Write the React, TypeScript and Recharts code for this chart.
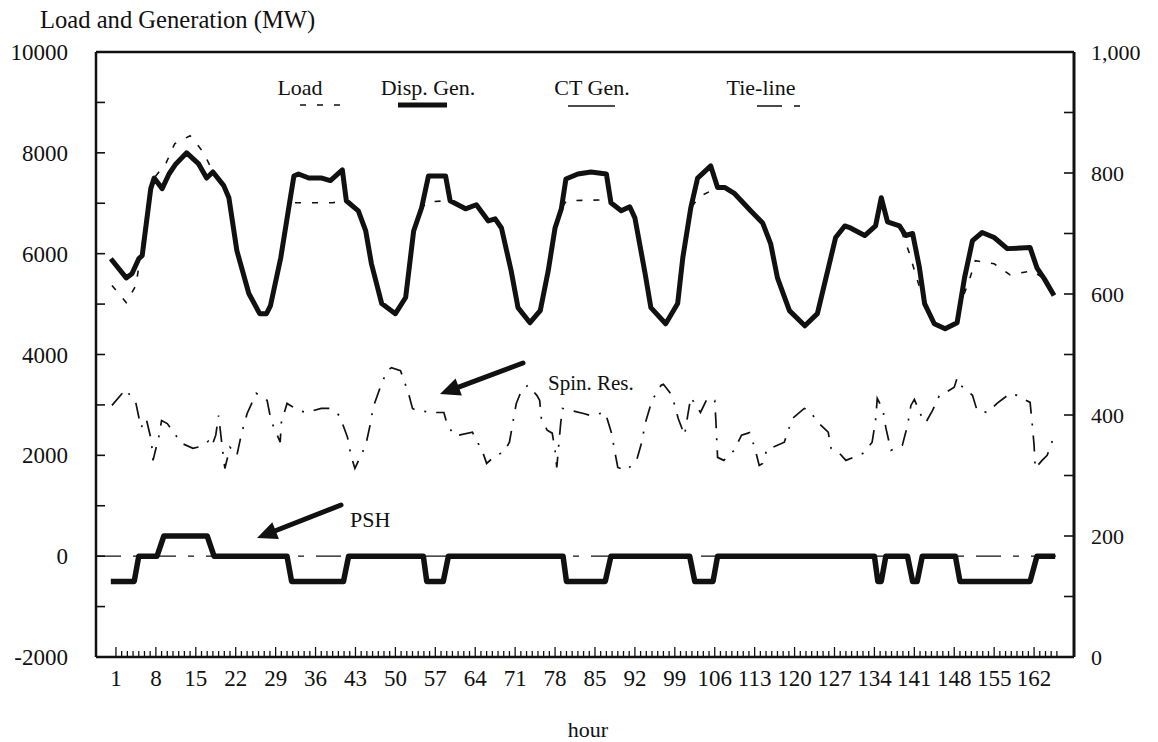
import React from 'react';
import { LineChart, Line, XAxis, YAxis } from 'recharts';

const FONT = '"Liberation Serif", "Times New Roman", Times, serif';
const INK = '#111';

// axis ticks
const HOUR_LABELS = [1, 8, 15, 22, 29, 36, 43, 50, 57, 64, 71, 78, 85, 92, 99, 106, 113, 120, 127, 134, 141, 148, 155, 162];
const HOUR_TICKS = Array.from({ length: 166 }, (_, i) => i + 1);
const LEFT_TICKS = [-2000, -1000, 0, 1000, 2000, 3000, 4000, 5000, 6000, 7000, 8000, 9000, 10000];
const LEFT_LABELS = [-2000, 0, 2000, 4000, 6000, 8000, 10000];
const RIGHT_TICKS = [0, 100, 200, 300, 400, 500, 600, 700, 800, 900, 1000];
const RIGHT_LABELS = [0, 200, 400, 600, 800, 1000];

// dispatchable generation (MW), read at the corners of the thick line
const GEN_HOURS = [0.1, 2.8, 3.8, 5.0, 5.6, 7.1, 7.7, 9.1, 10.3, 11.5, 13.4, 15.5, 16.9, 18.0, 19.9, 20.8, 22.2, 24.3, 26.2, 27.4, 28.1, 29.9, 31.3, 32.2, 33.0, 34.8, 37.1, 38.6, 40.7, 41.4, 43.5, 44.8, 45.8, 47.6, 50.0, 51.8, 53.2, 54.6, 55.8, 58.8, 59.6, 62.3, 64.2, 66.3, 67.5, 68.6, 70.3, 71.5, 73.6, 75.4, 76.8, 78.0, 79.1, 79.9, 82.0, 84.3, 87.0, 87.8, 89.6, 91.1, 92.0, 93.8, 94.8, 97.4, 99.5, 100.4, 101.8, 103.0, 105.3, 106.5, 107.8, 109.5, 112.3, 114.4, 115.8, 117.0, 119.1, 121.8, 124.0, 125.8, 127.2, 128.8, 129.8, 132.3, 134.2, 135.2, 136.3, 138.4, 139.5, 140.7, 141.9, 142.8, 144.5, 146.4, 148.5, 149.8, 151.2, 152.9, 155.0, 157.3, 161.3, 162.5, 163.8, 165.5];
const GEN_MW = [5900, 5520, 5600, 5900, 5960, 7290, 7500, 7290, 7580, 7780, 8000, 7780, 7500, 7620, 7350, 7110, 6060, 5210, 4810, 4810, 4970, 5920, 6910, 7540, 7580, 7500, 7500, 7450, 7660, 7050, 6850, 6450, 5800, 5010, 4810, 5130, 6450, 6910, 7540, 7540, 7050, 6890, 6970, 6650, 6690, 6510, 5660, 4930, 4630, 4870, 5660, 6510, 6890, 7480, 7580, 7620, 7580, 7010, 6850, 6930, 6710, 5600, 4930, 4610, 5010, 5920, 6910, 7500, 7740, 7310, 7310, 7190, 6850, 6610, 6200, 5520, 4870, 4570, 4810, 5660, 6320, 6550, 6510, 6360, 6550, 7110, 6630, 6550, 6360, 6400, 5720, 5010, 4610, 4510, 4630, 5520, 6260, 6420, 6320, 6100, 6120, 5720, 5500, 5170];

// load (MW)
const LOAD_HOURS = [0.3, 2.8, 4.5, 7.1, 7.7, 9.8, 11.3, 14.0, 16.4, 18.0, 19.9, 20.8, 22.2, 24.3, 26.2, 27.4, 28.1, 29.9, 31.3, 32.2, 39.0, 41.4, 43.5, 44.8, 45.8, 47.6, 50.0, 51.8, 53.2, 54.6, 55.8, 59.6, 62.3, 64.2, 66.3, 67.5, 68.6, 70.3, 71.5, 73.6, 75.4, 76.8, 78.0, 79.1, 80.0, 87.5, 87.8, 89.6, 91.1, 92.0, 93.8, 94.8, 97.4, 99.5, 100.4, 101.8, 103.3, 106.5, 107.8, 109.5, 112.3, 114.4, 115.8, 117.0, 119.1, 121.8, 124.0, 125.8, 127.2, 128.8, 129.8, 132.3, 134.2, 135.2, 136.3, 138.4, 140.1, 141.2, 142.8, 144.5, 146.4, 148.5, 149.3, 150.6, 151.7, 155.0, 157.8, 161.7, 163.8, 165.5];
const LOAD_MW = [5370, 5030, 5370, 7290, 7500, 7800, 8180, 8340, 8000, 7620, 7350, 7110, 6060, 5210, 4810, 4810, 4970, 5920, 6910, 7010, 7010, 7050, 6850, 6450, 5800, 5010, 4810, 5130, 6450, 6910, 7030, 7050, 6890, 6970, 6650, 6690, 6510, 5660, 4930, 4630, 4870, 5660, 6510, 6890, 7050, 7070, 7010, 6850, 6930, 6710, 5600, 4930, 4610, 5010, 5920, 6910, 7130, 7310, 7310, 7190, 6850, 6610, 6200, 5520, 4870, 4570, 4810, 5660, 6320, 6550, 6510, 6360, 6550, 7110, 6630, 6550, 6020, 5600, 5010, 4610, 4510, 4630, 5070, 5460, 5860, 5800, 5580, 5660, 5500, 5170];

// spinning reserve (MW)
const SPIN_HOURS = [0.3, 2.7, 4.5, 5.4, 6.3, 7.2, 7.5, 8.5, 9.0, 10.0, 12.5, 14.5, 16.0, 17.2, 17.8, 18.5, 19.0, 19.7, 20.1, 21.0, 22.2, 23.0, 24.0, 25.6, 27.5, 28.2, 29.8, 30.0, 31.0, 33.0, 34.4, 37.0, 38.5, 40.2, 41.6, 42.2, 42.9, 44.8, 45.6, 46.1, 47.6, 48.6, 49.3, 50.9, 52.3, 53.0, 53.7, 56.5, 58.5, 59.0, 60.2, 61.1, 63.5, 64.5, 65.2, 66.0, 67.6, 69.0, 70.0, 70.6, 71.2, 72.2, 73.3, 74.8, 75.3, 75.6, 76.6, 77.5, 78.0, 78.3, 79.0, 79.3, 80.8, 83.0, 84.2, 86.8, 87.9, 88.5, 89.0, 90.5, 92.3, 93.2, 93.8, 95.0, 96.6, 97.0, 98.5, 99.6, 100.7, 101.2, 101.8, 103.5, 104.7, 106.0, 106.2, 106.5, 107.6, 109.4, 110.7, 112.1, 113.0, 113.8, 114.4, 115.2, 116.2, 118.2, 119.6, 121.7, 122.6, 124.1, 125.9, 126.4, 127.4, 129.0, 132.0, 133.6, 134.2, 134.5, 135.5, 136.0, 136.9, 138.9, 139.8, 140.4, 141.0, 142.2, 143.0, 144.2, 145.4, 146.3, 148.0, 148.5, 149.1, 150.6, 151.2, 152.0, 153.8, 155.5, 157.8, 159.0, 161.3, 161.7, 162.0, 162.2, 163.4, 164.3, 165.3];
const SPIN_MW = [2990, 3310, 3030, 2550, 2730, 2300, 1900, 2360, 2690, 2630, 2240, 2140, 2180, 2280, 2180, 2400, 2790, 2100, 1740, 2160, 2000, 2420, 2830, 3230, 3090, 2690, 2260, 2650, 3030, 2890, 2850, 2930, 2930, 2790, 2360, 2000, 1740, 2200, 2620, 2950, 3430, 3680, 3740, 3680, 3230, 2930, 2890, 2850, 2850, 2650, 2400, 2400, 2460, 2240, 2100, 1840, 2000, 2060, 2260, 2650, 3030, 3310, 3390, 3190, 3090, 2730, 2500, 2440, 2100, 1760, 2650, 2930, 2890, 2830, 2790, 2850, 2440, 2060, 1760, 1700, 1900, 2260, 2630, 3090, 3390, 3410, 3190, 2730, 2400, 2750, 3150, 2850, 3130, 3090, 2690, 1960, 1900, 2100, 2400, 2450, 2160, 1800, 1840, 2140, 2160, 2260, 2730, 2930, 2890, 2650, 2460, 2140, 2100, 1900, 2040, 2260, 2690, 3130, 2900, 2550, 2100, 2200, 2590, 2990, 3110, 2790, 2650, 2890, 3190, 3230, 3350, 3530, 3390, 3250, 3190, 2890, 2850, 3030, 3230, 3190, 3050, 2590, 2200, 1740, 1900, 2000, 2320];

// pumped storage hydro (MW)
const PSH_HOURS = [0.1, 4.2, 5.0, 8.2, 9.4, 17.0, 18.2, 31.0, 31.8, 40.9, 41.8, 54.9, 55.5, 58.4, 59.3, 79.4, 80.0, 86.8, 87.8, 101.6, 102.5, 105.7, 106.5, 134.0, 134.6, 135.2, 136.0, 139.8, 140.7, 141.5, 142.4, 148.2, 149.0, 161.3, 162.5, 165.7];
const PSH_MW = [-500, -500, 0, 0, 400, 400, 0, 0, -500, -500, 0, 0, -500, -500, 0, 0, -500, -500, 0, 0, -500, -500, 0, 0, -500, -500, 0, 0, -500, -500, 0, 0, -500, -500, 0, 0];

// tie-line and CT generation stay at zero all week
const TIE_HOURS = [-2.5, 166];
const TIE_MW = [0, 0];
const CT_HOURS = [1, 166];
const CT_MW = [0, 0];

const rows = (hours: number[], values: number[]) => hours.map((h, i) => ({ h, v: values[i] }));

const LOAD_DASH = '6 11';
const SPIN_DASH = '16 10 2 10';
const TIE_DASH = '25 12 6 12';

const txt = { fontFamily: FONT, fill: INK } as const;

function HourTick({ x, y, payload }: any) {
  const h = payload.value;
  const major = HOUR_LABELS.includes(h);
  return (
    <g>
      <line x1={x} x2={x} y1={y} y2={y - (major ? 10 : 6)} stroke={INK} strokeWidth={1.3} />
      {major && (
        <text x={x} y={y + 29} textAnchor="middle" fontSize={23} {...txt}>
          {h}
        </text>
      )}
    </g>
  );
}

function LeftTick({ x, y, payload }: any) {
  const v = payload.value;
  return (
    <g>
      <line x1={x} x2={x + 9} y1={y} y2={y} stroke={INK} strokeWidth={1.6} />
      {LEFT_LABELS.includes(v) && (
        <text x={x - 28} y={y + 8} textAnchor="end" fontSize={23} {...txt}>
          {v}
        </text>
      )}
    </g>
  );
}

function RightTick({ x, y, payload }: any) {
  const v = payload.value;
  return (
    <g>
      <line x1={x} x2={x - 10} y1={y} y2={y} stroke={INK} strokeWidth={1.6} />
      {RIGHT_LABELS.includes(v) && (
        <text x={x + 17} y={y + 8} textAnchor="start" fontSize={22} {...txt}>
          {v.toLocaleString('en-US')}
        </text>
      )}
    </g>
  );
}

function Arrow({ x1, y1, x2, y2 }: { x1: number; y1: number; x2: number; y2: number }) {
  const len = Math.hypot(x2 - x1, y2 - y1);
  const ux = (x2 - x1) / len;
  const uy = (y2 - y1) / len;
  const hl = 20;
  const hw = 9;
  const bx = x2 - ux * hl;
  const by = y2 - uy * hl;
  return (
    <g>
      <line x1={x1} y1={y1} x2={bx + ux * 3} y2={by + uy * 3} stroke={INK} strokeWidth={5} strokeLinecap="round" />
      <polygon points={`${x2},${y2} ${bx - uy * hw},${by + ux * hw} ${bx + uy * hw},${by - ux * hw}`} fill={INK} />
    </g>
  );
}

function Overlay() {
  return (
    <svg width={1158} height={742} style={{ position: 'absolute', left: 0, top: 0, pointerEvents: 'none' }}>
      <text x={40} y={28} fontSize={24.6} {...txt}>Load and Generation (MW)</text>
      <text x={588} y={737} textAnchor="middle" fontSize={22} {...txt}>hour</text>

      {/* legend */}
      <text x={300} y={95} textAnchor="middle" fontSize={22} {...txt}>Load</text>
      <line x1={300} x2={348} y1={105} y2={105} stroke={INK} strokeWidth={1.5} strokeDasharray={LOAD_DASH} />
      <text x={428} y={95} textAnchor="middle" fontSize={22} {...txt}>Disp. Gen.</text>
      <line x1={398} x2={447} y1={105} y2={105} stroke={INK} strokeWidth={5} />
      <text x={592} y={95} textAnchor="middle" fontSize={22} {...txt}>CT Gen.</text>
      <line x1={568} x2={615} y1={106} y2={106} stroke={INK} strokeWidth={1.5} />
      <text x={761} y={95} textAnchor="middle" fontSize={22} {...txt}>Tie-line</text>
      <line x1={757} x2={810} y1={106} y2={106} stroke={INK} strokeWidth={1.5} strokeDasharray={TIE_DASH} />

      {/* annotations */}
      <text x={548} y={390} fontSize={21} {...txt}>Spin. Res.</text>
      <Arrow x1={523} y1={363} x2={440} y2={394} />
      <text x={350} y={527} fontSize={22} {...txt}>PSH</text>
      <Arrow x1={341} y1={505} x2={257} y2={538} />
    </svg>
  );
}

export default function App() {
  const frame = { stroke: INK, strokeWidth: 2.5 };
  return (
    <div style={{ position: 'absolute', left: 0, top: 0, width: 1158, height: 742, background: '#fff' }}>
      <LineChart width={1158} height={742} margin={{ top: 51, right: 83, bottom: 84, left: 95 }}>
        <XAxis
          xAxisId="h"
          type="number"
          dataKey="h"
          domain={[-2.5, 169]}
          allowDataOverflow
          ticks={HOUR_TICKS}
          interval={0}
          height={1}
          tickSize={0}
          tickMargin={0}
          tickLine={false}
          axisLine={frame}
          tick={(p: any) => <HourTick {...p} />}
        />
        <XAxis
          xAxisId="top"
          orientation="top"
          type="number"
          domain={[-2.5, 169]}
          height={1}
          tick={false}
          tickLine={false}
          axisLine={frame}
        />
        <YAxis
          yAxisId="mw"
          domain={[-2000, 10000]}
          allowDataOverflow
          ticks={LEFT_TICKS}
          interval={0}
          width={1}
          tickSize={0}
          tickMargin={0}
          tickLine={false}
          axisLine={frame}
          tick={(p: any) => <LeftTick {...p} />}
        />
        <YAxis
          yAxisId="right"
          orientation="right"
          domain={[0, 1000]}
          allowDataOverflow
          ticks={RIGHT_TICKS}
          interval={0}
          width={1}
          tickSize={0}
          tickMargin={0}
          tickLine={false}
          axisLine={{ stroke: INK, strokeWidth: 3 }}
          tick={(p: any) => <RightTick {...p} />}
        />
        <Line xAxisId="h" yAxisId="mw" data={rows(TIE_HOURS, TIE_MW)} dataKey="v" name="Tie-line" type="linear"
          stroke={INK} strokeWidth={1.4} strokeDasharray={TIE_DASH} dot={false} activeDot={false} isAnimationActive={false} />
        <Line xAxisId="h" yAxisId="right" data={rows(CT_HOURS, CT_MW)} dataKey="v" name="CT Gen." type="linear"
          stroke={INK} strokeWidth={1.4} dot={false} activeDot={false} isAnimationActive={false} />
        <Line xAxisId="h" yAxisId="mw" data={rows(SPIN_HOURS, SPIN_MW)} dataKey="v" name="Spin. Res." type="linear"
          stroke={INK} strokeWidth={1.7} strokeDasharray={SPIN_DASH} dot={false} activeDot={false} isAnimationActive={false} />
        <Line xAxisId="h" yAxisId="mw" data={rows(LOAD_HOURS, LOAD_MW)} dataKey="v" name="Load" type="linear"
          stroke={INK} strokeWidth={1.6} strokeDasharray={LOAD_DASH} dot={false} activeDot={false} isAnimationActive={false} />
        <Line xAxisId="h" yAxisId="mw" data={rows(PSH_HOURS, PSH_MW)} dataKey="v" name="PSH" type="linear"
          stroke={INK} strokeWidth={5.5} strokeLinejoin="round" dot={false} activeDot={false} isAnimationActive={false} />
        <Line xAxisId="h" yAxisId="mw" data={rows(GEN_HOURS, GEN_MW)} dataKey="v" name="Disp. Gen." type="linear"
          stroke={INK} strokeWidth={5} strokeLinejoin="round" dot={false} activeDot={false} isAnimationActive={false} />
      </LineChart>
      <Overlay />
    </div>
  );
}
